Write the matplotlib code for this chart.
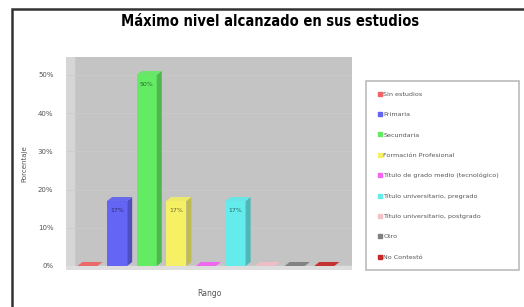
import matplotlib
matplotlib.use("Agg")
import matplotlib.pyplot as plt
from matplotlib.patches import Polygon, Rectangle
from matplotlib.lines import Line2D
import matplotlib.colors as mcolors
from matplotlib import font_manager

title = "Máximo nivel alcanzado en sus estudios"
categories = ["Sin estudios", "Primaria", "Secundaria", "Formación Profesional",
              "Título de grado medio (tecnológico)", "Título universitario, pregrado",
              "Título universitario, postgrado", "Otro", "No Contestó"]
values = [0, 17, 50, 17, 0, 17, 0, 0, 0]
colors = ["#f06464", "#6464f5", "#64eb64", "#f5f064", "#f564f5",
          "#64ebeb", "#f5c0c8", "#808080", "#c82828"]
yticks = [0, 10, 20, 30, 40, 50]
ytick_labels = ["0%", "10%", "20%", "30%", "40%", "50%"]
xlabel = "Rango"
ylabel = "Porcentaje"

plt.rcParams['font.family'] = ['DejaVu Sans']
names = {f.name for f in font_manager.fontManager.ttflist}
title_family = "Liberation Sans Narrow" if "Liberation Sans Narrow" in names else "DejaVu Sans"

fig = plt.figure(figsize=(5.24, 3.07), dpi=100)
fig.patch.set_facecolor("white")

# outer frame (cropped)
fig.add_artist(Rectangle((12/524, -0.05), 1.2, 1 - 9/307 + 0.05, transform=fig.transFigure,
                         fill=False, edgecolor="#333333", linewidth=1.8))

ax = fig.add_axes([66/524, 1 - 270/307, (352 - 66)/524, (270 - 57)/307])
ax.set_facecolor("#c4c4c4")
ax.set_xlim(-0.81, 8.85)
ax.set_ylim(-1.05, 54.7)
for s in ax.spines.values():
    s.set_visible(False)

# wall and floor
ax.axvspan(-0.81, -0.55, color="#d6d6d6", zorder=0)
ax.axhspan(-1.05, 0, color="#dedede", zorder=0)
for t in yticks[1:]:
    ax.axhline(t, color="#cbcbcb", lw=0.5, zorder=0.5)

w = 0.68
dx, dy = 0.17, 1.05
for i, (v, c) in enumerate(zip(values, colors)):
    x0 = i - w/2 - dx/2
    base = mcolors.to_rgb(c)
    dark = tuple(ch * 0.78 for ch in base)
    light = tuple(min(1, ch * 0.92 + 0.05) for ch in base)
    ax.add_patch(Rectangle((x0, 0), w, v, facecolor=c, edgecolor="none", zorder=3))
    ax.add_patch(Polygon([(x0 + w, 0), (x0 + w + dx, dy), (x0 + w + dx, v + dy), (x0 + w, v)],
                         closed=True, facecolor=dark, edgecolor="none", zorder=3))
    ax.add_patch(Polygon([(x0, v), (x0 + dx, v + dy), (x0 + w + dx, v + dy), (x0 + w, v)],
                         closed=True, facecolor=light, edgecolor="none", zorder=3))
    if v > 0:
        ax.text(x0 + w/2, v - 2.5, f"{v}%", ha="center", va="center", fontsize=4.5,
                color=tuple(ch * 0.45 for ch in base), zorder=4)

ax.set_xticks([])
ax.set_yticks(yticks)
ax.set_yticklabels(ytick_labels, fontsize=5, color="#555555")
ax.tick_params(axis="y", length=0, pad=9)
ax.set_ylabel(ylabel, fontsize=5, color="#555555")
ax.yaxis.set_label_coords(-0.135, 0.5)
ax.set_xlabel(xlabel, fontsize=5.5, color="#555555", labelpad=14)

ttl = fig.text(0.515, 1 - 22/307, title, ha="center", va="center", fontsize=12,
               fontweight="bold", family=[title_family], fontstretch="condensed")
renderer = fig.canvas.get_renderer()
tw = ttl.get_window_extent(renderer).width
ttl.set_fontsize(12 * 296 / tw)

handles = [Line2D([], [], marker="s", linestyle="none", markersize=3.5,
                  markerfacecolor=c, markeredgecolor=c) for c in colors]
leg = fig.legend(handles, categories, loc="upper left",
                 bbox_to_anchor=(363/524, 1 - 268/307, 159/524, 190/307), mode="expand",
                 fontsize=4.6, labelspacing=2.33, handletextpad=0.1, handlelength=1.0,
                 borderpad=1.6, frameon=True, fancybox=False, labelcolor="#555555")
leg.get_frame().set_edgecolor("#aaaaaa")
leg.get_frame().set_linewidth(1.2)

fig.savefig("out.png", dpi=100)
